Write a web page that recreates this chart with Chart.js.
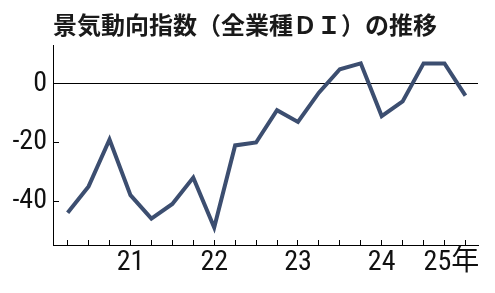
<!DOCTYPE html>
<html lang="ja">
<head>
<meta charset="utf-8">
<script src="https://cdn.jsdelivr.net/npm/chart.js@4.4.1/dist/chart.umd.min.js"></script>
<style>
	html, body { margin: 0; padding: 0; background: #ffffff; }
	#wrap { width: 495px; height: 293px; }
</style>
</head>
<body>
<div id="wrap"><canvas id="diChart"></canvas></div>
<script>
// 四半期ごとの全業種DI（2020年4-6月期〜2025年1-3月期）
const quarters = [
	"20/4-6", "20/7-9", "20/10-12", "21/1-3",
	"21/4-6", "21/7-9", "21/10-12", "22/1-3",
	"22/4-6", "22/7-9", "22/10-12", "23/1-3",
	"23/4-6", "23/7-9", "23/10-12", "24/1-3",
	"24/4-6", "24/7-9", "24/10-12", "25/1-3",
];
const diValues = [
	-44, -35, -19, -38,
	-46, -41, -32, -49,
	-21, -20, -9, -13,
	-3, 5, 7, -11,
	-6, 7, 7, -4,
];
const yearLabels = ["21", "22", "23", "24", "25年"];
const yearQuarters = ["21/1-3", "22/1-3", "23/1-3", "24/1-3", "25/1-3"];
const yTicks = [0, -20, -40];

const tickFont = {
	family: "'Roboto Condensed', 'Noto Sans CJK JP', sans-serif",
	size: 28,
};

const labelFor = (index) => {
	const pos = yearQuarters.indexOf(quarters[index]);
	if (pos < 0) return "";
	// 最後の「25年」は軸の右端に寄せる
	return pos === yearLabels.length - 1 ? yearLabels[pos] + "　" : yearLabels[pos];
};

const ctx = document.getElementById("diChart").getContext("2d");

new Chart(ctx, {
	type: "line",
	data: {
		datasets: [
			{
				label: "全業種DI",
				data: diValues.map((v, i) => ({ x: i, y: v })),
				borderColor: "#3c4e70",
				borderWidth: 4,
				borderJoinStyle: "miter",
				pointRadius: 0,
				tension: 0,
				fill: false,
			},
		],
	},
	options: {
		responsive: true,
		maintainAspectRatio: false,
		animation: false,
		devicePixelRatio: 1,
		layout: {
			padding: { top: 0, right: 17, bottom: 0, left: 0 },
		},
		plugins: {
			legend: { display: false },
			tooltip: { enabled: false },
			title: {
				display: true,
				text: "景気動向指数（全業種ＤＩ）の推移",
				align: "start",
				fullSize: false,
				color: "#1a1a1a",
				font: {
					family: "'Noto Sans CJK JP', sans-serif",
					size: 24,
					weight: "bold",
				},
				padding: { top: 10, bottom: 7 },
			},
		},
		scales: {
			x: {
				type: "linear",
				min: -0.7,
				max: quarters.length - 1 + 0.6,
				afterBuildTicks: (scale) => {
					scale.ticks = quarters.map((q, i) => ({ value: i }));
				},
				afterFit: (scale) => {
					scale.height = 48;
					scale.paddingLeft = 0;
					scale.paddingRight = 0;
				},
				border: { display: true, color: "#000000", width: 1 },
				grid: {
					drawOnChartArea: false,
					drawTicks: true,
					tickLength: -5,
					tickColor: "#000000",
					tickWidth: 1,
				},
				ticks: {
					autoSkip: false,
					maxRotation: 0,
					padding: 6,
					color: "#111111",
					font: tickFont,
					callback: (value) => labelFor(value),
				},
			},
			y: {
				min: -55,
				max: 13,
				afterBuildTicks: (scale) => {
					scale.ticks = yTicks.map((v) => ({ value: v }));
				},
				afterFit: (scale) => {
					scale.width = 53;
				},
				border: { display: true, color: "#000000", width: 1 },
				grid: {
					drawOnChartArea: true,
					color: (c) => (c.tick && c.tick.value === 0 ? "#000000" : "rgba(0,0,0,0)"),
					lineWidth: 1,
					drawTicks: true,
					tickLength: -6,
					tickColor: "#000000",
					tickWidth: 1,
				},
				ticks: {
					padding: 12,
					color: "#111111",
					font: tickFont,
					callback: (value) => String(value),
				},
			},
		},
	},
});
</script>
</body>
</html>
